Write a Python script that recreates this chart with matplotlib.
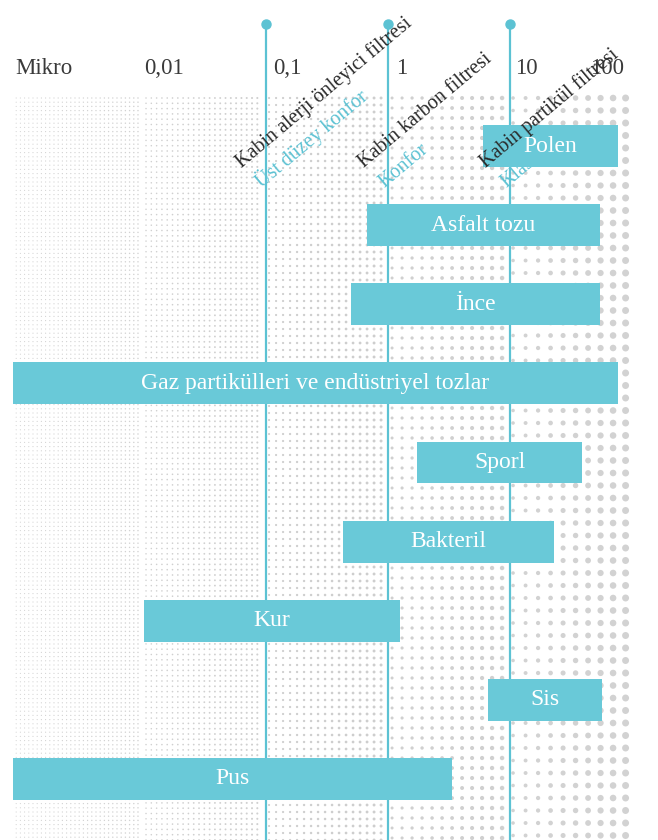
import matplotlib.pyplot as plt
import numpy as np

# particle size ranges in micrometers
particles = ["Polen", "Asfalt tozu", "İnce", "Gaz partikülleri ve endüstriyel tozlar",
             "Sporl", "Bakteril", "Kur", "Sis", "Pus"]
size_min = [6.0, 0.67, 0.50, 0.00084, 1.73, 0.43, 0.010, 6.6, 0.00084]
size_max = [77, 55, 55, 77, 39, 23, 1.25, 57, 3.35]

scale_labels = ["Mikro", "0,01", "0,1", "1", "10", "100"]
scale_x = [0.00088, 0.0101, 0.114, 1.17, 11.0, 45]

filter_cut = [0.1, 1, 10]
filter_names = ["Kabin alerji önleyici filtresi", "Kabin karbon filtresi", "Kabin partikül filtresi"]
filter_levels = ["Üst düzey konfor", "Konfor", "Klasik"]

# background halftone panels, one per decade
panel_lo = [0.00088, 0.0102, 0.104, 1.06, 10.4]
panel_hi = [0.0093, 0.093, 0.94, 9.1, 91]

BAR = '#69c9d8'
LINE = '#5cc2d3'
W, H = 658, 840

fig = plt.figure(figsize=(W / 100, H / 100), dpi=100)
ax = fig.add_axes([0, 0, 1, 1])
ax.set_xscale('log')
lx0, lx1 = -3.18, 2.213
ax.set_xlim(10 ** lx0, 10 ** lx1)
y0, y1 = -1.846, 8.771
ax.set_ylim(y1, y0)
ax.axis('off')

xpx = W / (lx1 - lx0)   # pixels per decade
ypx = H / (y1 - y0)     # pixels per row

# dotted texture, dots get bigger with particle size
spacing = [4.2, 5.3, 7.0, 10.0, 12.5]
dmin = [1.1, 1.5, 2.1, 3.0, 3.5]
dmax = [1.5, 2.1, 3.0, 4.5, 7.0]
dcol = ['#d2d2d2', '#d0d0d0', '#cecece', '#d0d0d0', '#d2d2d2']
top = (97 / H) * (y1 - y0) + y0
for i in range(5):
    a, b = np.log10(panel_lo[i]), np.log10(panel_hi[i])
    xs = np.arange(a + 1 / xpx, b, spacing[i] / xpx)
    ys = np.arange(top + 1 / ypx, y1 + 0.2, spacing[i] / ypx)
    X, Y = np.meshgrid(xs, ys)
    frac = (X - a) / (b - a)
    d = dmin[i] + (dmax[i] - dmin[i]) * frac
    ax.scatter(10 ** X, Y, s=(d * 0.72) ** 2, c=dcol[i], linewidths=0, zorder=1)

# filter lines with a dot on top
xt = ax.get_xaxis_transform()
for c, name, lvl in zip(filter_cut, filter_names, filter_levels):
    ax.axvline(c, ymin=0, ymax=1 - 24 / H, color=LINE, lw=1.6, zorder=2)
    ax.plot([c], [1 - 24 / H], 'o', ms=6.5, color=LINE, transform=xt, zorder=2)
    ax.annotate(name, xy=(c, 1 - 168 / H), xycoords=xt, xytext=(-24, 0),
                textcoords='offset pixels', rotation=40, rotation_mode='anchor',
                ha='left', va='baseline', fontsize=14.5, family='Liberation Serif',
                color='#2a2a2a', zorder=5)
    ax.annotate(lvl, xy=(c, 1 - 168 / H), xycoords=xt, xytext=(-4, -20),
                textcoords='offset pixels', rotation=40, rotation_mode='anchor',
                ha='left', va='baseline', fontsize=14.5, family='Liberation Serif',
                color=LINE, zorder=2.5)

# scale labels
for lab, x in zip(scale_labels, scale_x):
    ax.text(x, 1 - 68 / H, lab, transform=xt, ha='left', va='center',
            fontsize=16.5, family='Liberation Serif', color='#3a3a3a')

# particle bars
rows = np.arange(len(particles))
widths = np.array(size_max) - np.array(size_min)
ax.barh(rows, widths, left=size_min, height=0.53, color=BAR, zorder=3)
for r, name, lo, hi in zip(rows, particles, size_min, size_max):
    ax.text(np.sqrt(lo * hi), r, name, ha='center', va='center', fontsize=17,
            family='Liberation Serif', color='white', zorder=4)

fig.savefig('out.png', dpi=100)
